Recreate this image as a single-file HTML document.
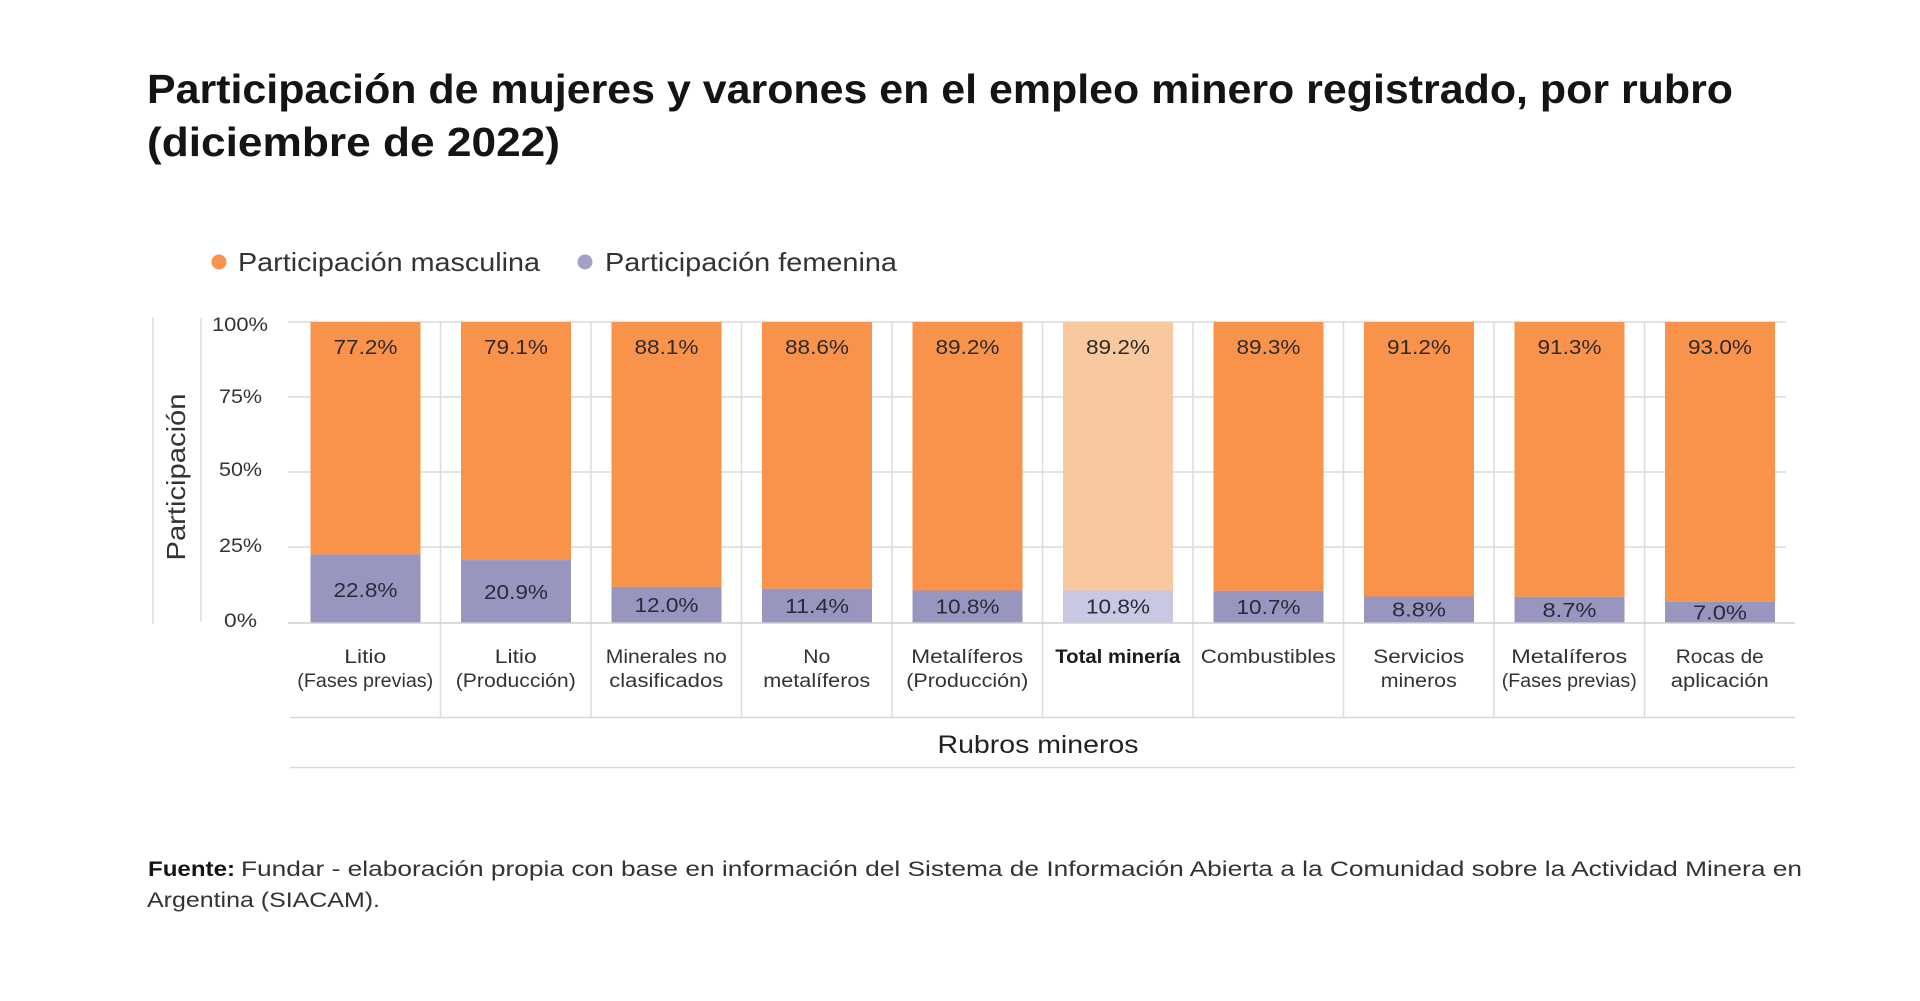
<!DOCTYPE html>
<html>
<head>
<meta charset="utf-8">
<style>
  html,body{margin:0;padding:0;background:#fff;}
  svg{display:block;}
  text{font-family:"Liberation Sans",sans-serif;}
</style>
</head>
<body>
<svg width="1920" height="1001" viewBox="0 0 1920 1001" xmlns="http://www.w3.org/2000/svg">
  <rect width="1920" height="1001" fill="#fff"/>

  <!-- Title -->
  <text x="147" y="103" font-size="41" font-weight="700" fill="#141414" textLength="1586" lengthAdjust="spacingAndGlyphs">Participación de mujeres y varones en el empleo minero registrado, por rubro</text>
  <text x="147" y="156" font-size="41" font-weight="700" fill="#141414" textLength="413" lengthAdjust="spacingAndGlyphs">(diciembre de 2022)</text>

  <!-- Legend -->
  <circle cx="219" cy="262" r="7.5" fill="#F9924B"/>
  <text x="238" y="271" font-size="26" fill="#333" textLength="302" lengthAdjust="spacingAndGlyphs">Participación masculina</text>
  <circle cx="585" cy="262" r="7.5" fill="#A3A1C8"/>
  <text x="605" y="271" font-size="26" fill="#333" textLength="292" lengthAdjust="spacingAndGlyphs">Participación femenina</text>

  <!-- left decorative lines -->
  <line x1="153" y1="317" x2="153" y2="624" stroke="#dcdcdc" stroke-width="1.5"/>
  <line x1="201" y1="318" x2="201" y2="621" stroke="#dcdcdc" stroke-width="1.5"/>

  <!-- Y axis title -->
  <text transform="translate(185,477) rotate(-90)" text-anchor="middle" font-size="26" fill="#333" textLength="167" lengthAdjust="spacingAndGlyphs">Participación</text>

  <!-- Y tick labels -->
  <text x="212" y="331" font-size="19" fill="#333" textLength="56" lengthAdjust="spacingAndGlyphs">100%</text>
  <text x="219" y="403" font-size="19" fill="#333" textLength="43" lengthAdjust="spacingAndGlyphs">75%</text>
  <text x="219" y="476" font-size="19" fill="#333" textLength="43" lengthAdjust="spacingAndGlyphs">50%</text>
  <text x="219" y="552" font-size="19" fill="#333" textLength="43" lengthAdjust="spacingAndGlyphs">25%</text>
  <text x="224" y="627" font-size="19" fill="#333" textLength="33" lengthAdjust="spacingAndGlyphs">0%</text>

  <!-- gridlines -->
  <g stroke="#dadada" stroke-width="1.5">
    <line x1="288" y1="322" x2="1786" y2="322"/>
    <line x1="288" y1="397" x2="1786" y2="397"/>
    <line x1="288" y1="472" x2="1786" y2="472"/>
    <line x1="288" y1="547" x2="1786" y2="547"/>
  </g>

  <!-- category separators -->
  <g stroke="#dcdcdc" stroke-width="1.5">
    <line x1="440.5" y1="322" x2="440.5" y2="717"/>
    <line x1="591" y1="322" x2="591" y2="717"/>
    <line x1="741.5" y1="322" x2="741.5" y2="717"/>
    <line x1="892" y1="322" x2="892" y2="717"/>
    <line x1="1042.5" y1="322" x2="1042.5" y2="717"/>
    <line x1="1193" y1="322" x2="1193" y2="717"/>
    <line x1="1343.5" y1="322" x2="1343.5" y2="717"/>
    <line x1="1494" y1="322" x2="1494" y2="717"/>
    <line x1="1644.5" y1="322" x2="1644.5" y2="717"/>
  </g>

  <!-- Bars -->
  <g>
    <rect x="310.5" y="322" width="110" height="232.4" fill="#F9924B"/>
    <rect x="310.5" y="554.4" width="110" height="68.6" fill="#9896BF"/>
    <rect x="461" y="322" width="110" height="238.1" fill="#F9924B"/>
    <rect x="461" y="560.1" width="110" height="62.9" fill="#9896BF"/>
    <rect x="611.5" y="322" width="110" height="264.9" fill="#F9924B"/>
    <rect x="611.5" y="586.9" width="110" height="36.1" fill="#9896BF"/>
    <rect x="762" y="322" width="110" height="266.7" fill="#F9924B"/>
    <rect x="762" y="588.7" width="110" height="34.3" fill="#9896BF"/>
    <rect x="912.5" y="322" width="110" height="268.5" fill="#F9924B"/>
    <rect x="912.5" y="590.5" width="110" height="32.5" fill="#9896BF"/>
    <rect x="1063" y="322" width="110" height="268.5" fill="#F8C9A0"/>
    <rect x="1063" y="590.5" width="110" height="32.5" fill="#C9C8E2"/>
    <rect x="1213.5" y="322" width="110" height="268.8" fill="#F9924B"/>
    <rect x="1213.5" y="590.8" width="110" height="32.2" fill="#9896BF"/>
    <rect x="1364" y="322" width="110" height="274.5" fill="#F9924B"/>
    <rect x="1364" y="596.5" width="110" height="26.5" fill="#9896BF"/>
    <rect x="1514.5" y="322" width="110" height="274.8" fill="#F9924B"/>
    <rect x="1514.5" y="596.8" width="110" height="26.2" fill="#9896BF"/>
    <rect x="1665" y="322" width="110" height="279.9" fill="#F9924B"/>
    <rect x="1665" y="601.9" width="110" height="21.1" fill="#9896BF"/>
  </g>

  <!-- baseline -->
  <line x1="288" y1="623" x2="1795" y2="623" stroke="#cfcfcf" stroke-width="1.5"/>

  <!-- value labels male -->
  <g font-size="20" fill="#2e2a28" text-anchor="middle">
    <text x="365.5" y="354" textLength="64" lengthAdjust="spacingAndGlyphs">77.2%</text>
    <text x="516" y="354" textLength="64" lengthAdjust="spacingAndGlyphs">79.1%</text>
    <text x="666.5" y="354" textLength="64" lengthAdjust="spacingAndGlyphs">88.1%</text>
    <text x="817" y="354" textLength="64" lengthAdjust="spacingAndGlyphs">88.6%</text>
    <text x="967.5" y="354" textLength="64" lengthAdjust="spacingAndGlyphs">89.2%</text>
    <text x="1118" y="354" textLength="64" lengthAdjust="spacingAndGlyphs">89.2%</text>
    <text x="1268.5" y="354" textLength="64" lengthAdjust="spacingAndGlyphs">89.3%</text>
    <text x="1419" y="354" textLength="64" lengthAdjust="spacingAndGlyphs">91.2%</text>
    <text x="1569.5" y="354" textLength="64" lengthAdjust="spacingAndGlyphs">91.3%</text>
    <text x="1720" y="354" textLength="64" lengthAdjust="spacingAndGlyphs">93.0%</text>
  </g>
  <!-- value labels female -->
  <g font-size="20" fill="#2a2a3a" text-anchor="middle">
    <text x="365.5" y="597" textLength="64" lengthAdjust="spacingAndGlyphs">22.8%</text>
    <text x="516" y="599" textLength="64" lengthAdjust="spacingAndGlyphs">20.9%</text>
    <text x="666.5" y="612" textLength="64" lengthAdjust="spacingAndGlyphs">12.0%</text>
    <text x="817" y="612.8" textLength="64" lengthAdjust="spacingAndGlyphs">11.4%</text>
    <text x="967.5" y="613.7" textLength="64" lengthAdjust="spacingAndGlyphs">10.8%</text>
    <text x="1118" y="613.7" textLength="64" lengthAdjust="spacingAndGlyphs">10.8%</text>
    <text x="1268.5" y="613.9" textLength="64" lengthAdjust="spacingAndGlyphs">10.7%</text>
    <text x="1419" y="616.7" textLength="54" lengthAdjust="spacingAndGlyphs">8.8%</text>
    <text x="1569.5" y="616.9" textLength="54" lengthAdjust="spacingAndGlyphs">8.7%</text>
    <text x="1720" y="619.5" textLength="54" lengthAdjust="spacingAndGlyphs">7.0%</text>
  </g>

  <!-- category labels -->
  <g font-size="19" fill="#333" text-anchor="middle">
    <text x="365.25" y="663" textLength="42" lengthAdjust="spacingAndGlyphs">Litio</text>
    <text x="365.25" y="687" textLength="136" lengthAdjust="spacingAndGlyphs">(Fases previas)</text>
    <text x="515.75" y="663" textLength="42" lengthAdjust="spacingAndGlyphs">Litio</text>
    <text x="515.75" y="687" textLength="120" lengthAdjust="spacingAndGlyphs">(Producción)</text>
    <text x="666.25" y="663" textLength="121" lengthAdjust="spacingAndGlyphs">Minerales no</text>
    <text x="666.25" y="687" textLength="114" lengthAdjust="spacingAndGlyphs">clasificados</text>
    <text x="816.75" y="663" textLength="27" lengthAdjust="spacingAndGlyphs">No</text>
    <text x="816.75" y="687" textLength="107" lengthAdjust="spacingAndGlyphs">metalíferos</text>
    <text x="967.25" y="663" textLength="112" lengthAdjust="spacingAndGlyphs">Metalíferos</text>
    <text x="967.25" y="687" textLength="122" lengthAdjust="spacingAndGlyphs">(Producción)</text>
    <text x="1117.75" y="663" font-weight="700" fill="#1a1a1a" textLength="125" lengthAdjust="spacingAndGlyphs">Total minería</text>
    <text x="1268.25" y="663" textLength="135" lengthAdjust="spacingAndGlyphs">Combustibles</text>
    <text x="1418.75" y="663" textLength="91" lengthAdjust="spacingAndGlyphs">Servicios</text>
    <text x="1418.75" y="687" textLength="76" lengthAdjust="spacingAndGlyphs">mineros</text>
    <text x="1569.25" y="663" textLength="116" lengthAdjust="spacingAndGlyphs">Metalíferos</text>
    <text x="1569.25" y="687" textLength="135" lengthAdjust="spacingAndGlyphs">(Fases previas)</text>
    <text x="1719.75" y="663" textLength="88" lengthAdjust="spacingAndGlyphs">Rocas de</text>
    <text x="1719.75" y="687" textLength="98" lengthAdjust="spacingAndGlyphs">aplicación</text>
  </g>

  <!-- table lines -->
  <line x1="290" y1="717.5" x2="1795" y2="717.5" stroke="#d8d8d8" stroke-width="1.5"/>
  <line x1="290" y1="767.5" x2="1795" y2="767.5" stroke="#d8d8d8" stroke-width="1.5"/>

  <!-- X axis title -->
  <text x="1038" y="753" font-size="25" fill="#222" text-anchor="middle" textLength="201" lengthAdjust="spacingAndGlyphs">Rubros mineros</text>

  <!-- Footnote -->
  <text x="148" y="876" font-size="21" font-weight="700" fill="#141414" textLength="87" lengthAdjust="spacingAndGlyphs">Fuente:</text>
  <text x="241" y="876" font-size="21" fill="#333" textLength="1561" lengthAdjust="spacingAndGlyphs">Fundar - elaboración propia con base en información del Sistema de Información Abierta a la Comunidad sobre la Actividad Minera en</text>
  <text x="147" y="907" font-size="21" fill="#333" textLength="233" lengthAdjust="spacingAndGlyphs">Argentina (SIACAM).</text>
</svg>
</body>
</html>
